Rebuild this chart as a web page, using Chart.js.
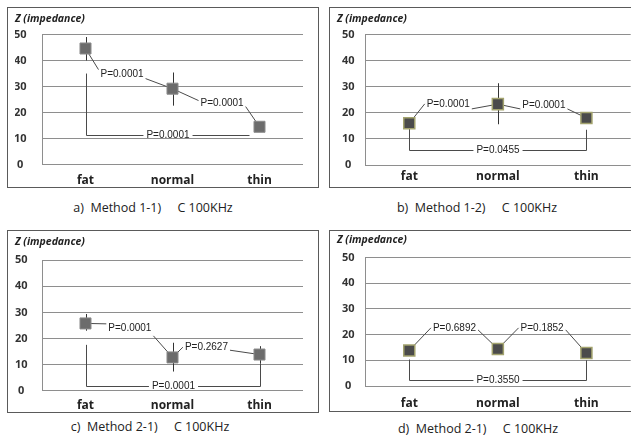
<!DOCTYPE html>
<html>
<head>
<meta charset="utf-8">
<script src="https://cdn.jsdelivr.net/npm/chart.js@4.4.0/dist/chart.umd.min.js"></script>
<style>
  body { margin: 0; background: #fff; width: 631px; height: 441px; overflow: hidden; position: relative; font-family: "Open Sans", sans-serif; }
  .box { position: absolute; border: 1px solid #5a5a5a; box-sizing: border-box; background: #fff; overflow: hidden; }
  .box canvas { display: block; }
  .cap { position: absolute; font-size: 12.5px; color: #222; white-space: pre; transform: translate(-50%, -50%); }
</style>
</head>
<body>
<div class="box" style="left:7px;top:7px;width:312px;height:181px"><canvas id="cA" width="310" height="179"></canvas></div>
<div class="box" style="left:329px;top:7px;width:312px;height:181px"><canvas id="cB" width="310" height="179"></canvas></div>
<div class="box" style="left:7px;top:230px;width:312px;height:183px"><canvas id="cC" width="310" height="181"></canvas></div>
<div class="box" style="left:329px;top:230px;width:312px;height:182px"><canvas id="cD" width="310" height="180"></canvas></div>
<div class="cap" style="left:153px;top:207px">a)  Method 1-1)     C 100KHz</div>
<div class="cap" style="left:477px;top:207px">b)  Method 1-2)     C 100KHz</div>
<div class="cap" style="left:150px;top:426px">c)  Method 2-1)     C 100KHz</div>
<div class="cap" style="left:478px;top:428px">d)  Method 2-1)     C 100KHz</div>
<script>
// categories and ticks
const categories = ['fat', 'normal', 'thin'];
const yTicks = [0, 10, 20, 30, 40, 50];

// a) Method 1-1
const valuesA = [44.6, 29.2, 14.6];
const lowA = [40, 22.7, null];
const highA = [49, 35.4, null];
const pA = ['P=0.0001', 'P=0.0001', 'P=0.0001'];

// b) Method 1-2
const valuesB = [16, 23.3, 18];
const lowB = [null, 15.6, null];
const highB = [null, 31.3, null];
const pB = ['P=0.0001', 'P=0.0001', 'P=0.0455'];

// c) Method 2-1
const valuesC = [25.8, 12.8, 13.9];
const lowC = [23, 7.4, 10.6];
const highC = [29.4, 18.4, 17.1];
const pC = ['P=0.0001', 'P=0.2627', 'P=0.0001'];

// d) Method 2-1
const valuesD = [13.8, 14.4, 12.8];
const lowD = [null, null, null];
const highD = [null, null, null];
const pD = ['P=0.6892', 'P=0.1852', 'P=0.3550'];

// error bars, leader-line p labels and the fat-thin bracket
const pvalPlugin = {
  id: 'pvals',
  beforeDatasetsDraw(chart, args, opts) {
    const { ctx, scales: { x, y } } = chart;
    const px = i => x.getPixelForValue(i);
    const py = v => y.getPixelForValue(v);
    const vals = chart.data.datasets[0].data;
    const line = (x1, y1, x2, y2) => {
      ctx.beginPath(); ctx.moveTo(x1, y1); ctx.lineTo(x2, y2); ctx.stroke();
    };
    ctx.save();
    ctx.lineWidth = 1;
    ctx.font = '10px "Liberation Sans"';
    ctx.fillStyle = '#222';
    ctx.textAlign = 'center';
    ctx.textBaseline = 'middle';

    ctx.strokeStyle = '#333';
    opts.low.forEach((lo, i) => {
      if (lo == null) return;
      line(Math.round(px(i)) + 0.5, py(lo), Math.round(px(i)) + 0.5, py(opts.high[i]));
    });

    ctx.strokeStyle = '#4a4a4a';
    opts.leaders.forEach(l => {
      const cx = px(l.x), cy = py(l.y);
      const w = ctx.measureText(l.text).width / 2 + 2;
      line(px(l.from), py(vals[l.from]), cx - w, cy + l.dl);
      line(cx + w, cy + l.dr, px(l.to), py(vals[l.to]));
      ctx.fillText(l.text, cx, cy);
    });

    const b = opts.bracket;
    const x0 = Math.round(px(0)) + 0.5, x1 = Math.round(px(b.end)) + 0.5;
    const yl = Math.round(py(b.level)) + 0.5;
    const mid = (x0 + x1) / 2;
    const w = ctx.measureText(b.text).width / 2 + 3;
    line(x0, py(b.leftTop), x0, yl);
    if (b.rightTop != null) line(x1, py(b.rightTop), x1, yl);
    line(x0, yl, mid - w, yl);
    line(mid + w, yl, x1, yl);
    ctx.fillText(b.text, mid, yl);
    ctx.restore();
  }
};

function makeChart(id, values, marker, ann, geo) {
  return new Chart(document.getElementById(id), {
    type: 'line',
    data: {
      labels: categories,
      datasets: [{
        data: values,
        showLine: false,
        pointStyle: 'rect',
        pointRadius: 7.8,
        pointHoverRadius: 7.8,
        pointBackgroundColor: marker.fill,
        pointBorderColor: marker.edge,
        pointBorderWidth: marker.width
      }]
    },
    options: {
      responsive: false,
      animation: false,
      events: [],
      layout: { padding: geo.pad },
      plugins: {
        legend: { display: false },
        tooltip: { enabled: false },
        title: {
          display: true,
          text: 'Z (impedance)',
          align: 'start',
          color: '#222',
          font: { family: 'Open Sans', size: 10.5, style: 'italic', weight: 'bold' },
          padding: { top: 0, bottom: geo.titleGap }
        },
        pvals: ann
      },
      scales: {
        x: {
          offset: true,
          afterFit: s => { s.height = geo.xH; },
          grid: { display: false, drawTicks: false },
          border: { display: false },
          ticks: { padding: geo.xPad, color: '#222', font: { family: 'Open Sans', size: 12, weight: 'bold' } }
        },
        y: {
          min: 0,
          max: 50,
          afterBuildTicks: s => { s.ticks = yTicks.map(v => ({ value: v })); },
          afterFit: s => { s.width = geo.yW; },
          grid: { color: '#8e8e8e', drawTicks: false },
          border: { color: '#8e8e8e' },
          ticks: { padding: geo.yPad, crossAlign: 'center', color: '#333', font: { family: 'Open Sans', size: 11, weight: 'bold' } }
        }
      }
    },
    plugins: [pvalPlugin]
  });
}

const grayMarker = { fill: '#6c6c6c', edge: '#8c8c8c', width: 1 };
const darkMarker = { fill: '#4b4b4b', edge: '#a3a36e', width: 1.5 };

makeChart('cA', valuesA, grayMarker, {
  low: lowA, high: highA,
  leaders: [
    { from: 0, to: 1, x: 0.42, y: 34.6, text: pA[0], dl: -5, dr: 4 },
    { from: 1, to: 2, x: 1.57, y: 23.5, text: pA[1], dl: -3, dr: 3 }
  ],
  bracket: { level: 11.5, leftTop: 35, rightTop: null, end: 1.88, text: pA[2] }
}, { pad: { top: 5, right: 15, bottom: 0, left: 7 }, titleGap: 8.8, yW: 27, yPad: 15.5, xPad: 8.5, xH: 20 });

makeChart('cB', valuesB, darkMarker, {
  low: lowB, high: highB,
  leaders: [
    { from: 0, to: 1, x: 0.44, y: 23.4, text: pB[0], dl: 0, dr: 5 },
    { from: 1, to: 2, x: 1.52, y: 23, text: pB[1], dl: 4, dr: 4 }
  ],
  bracket: { level: 5.9, leftTop: 14, rightTop: 13.5, end: 2, text: pB[2] }
}, { pad: { top: 5, right: 9, bottom: 0, left: 7 }, titleGap: 8.8, yW: 28, yPad: 10.5, xPad: 4.3, xH: 22 });

makeChart('cC', valuesC, grayMarker, {
  low: lowC, high: highC,
  leaders: [
    { from: 0, to: 1, x: 0.51, y: 24.1, text: pC[0], dl: -4, dr: 8 },
    { from: 1, to: 2, x: 1.39, y: 16.7, text: pC[1], dl: 0, dr: 3 }
  ],
  bracket: { level: 2, leftTop: 17.6, rightTop: 10.6, end: 2, text: pC[2] }
}, { pad: { top: 5, right: 15, bottom: 0, left: 7 }, titleGap: 11.5, yW: 27, yPad: 14.5, xPad: 7.3, xH: 21 });

makeChart('cD', valuesD, darkMarker, {
  low: lowD, high: highD,
  leaders: [
    { from: 0, to: 1, x: 0.51, y: 22.6, text: pD[0], dl: 0, dr: 2 },
    { from: 1, to: 2, x: 1.5, y: 22.6, text: pD[1], dl: 0, dr: 2 }
  ],
  bracket: { level: 2.3, leftTop: 10.3, rightTop: 10, end: 2, text: pD[2] }
}, { pad: { top: 3, right: 9, bottom: 0, left: 7 }, titleGap: 10.8, yW: 28, yPad: 10.5, xPad: 10.3, xH: 25 });
</script>
</body>
</html>
